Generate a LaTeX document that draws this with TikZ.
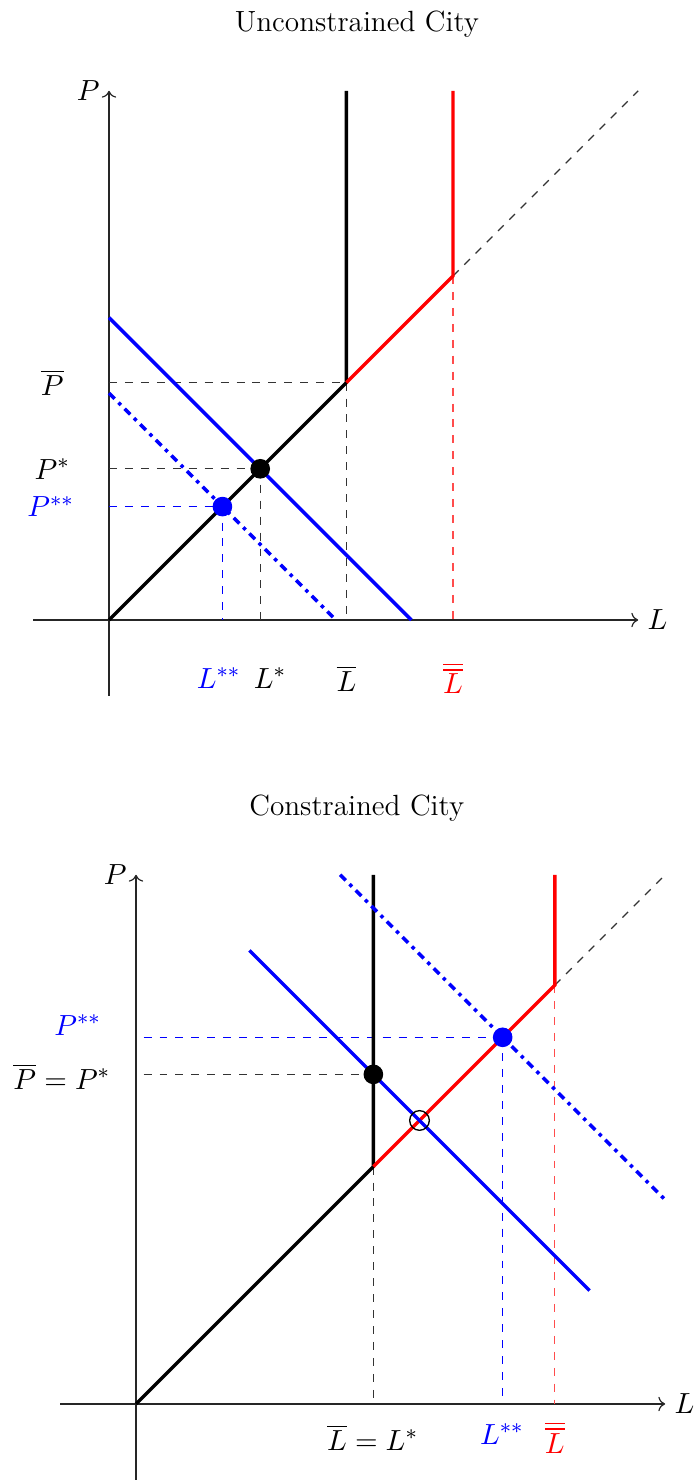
\documentclass[tikz,border=0pt]{standalone}
\usepackage{amsmath,amssymb}
\usetikzlibrary{arrows.meta,positioning,calc}

\begin{document}
\begin{tikzpicture}[
  x=1cm, y=1cm,
  font=\fontsize{11}{13.6}\selectfont,
  axis/.style={->, draw=black!85, line width=0.45pt},
  supply/.style={line width=1.3pt, draw=black},
  capline/.style={line width=1.3pt, draw=red},
  demand/.style={line width=1.3pt, draw=blue},
  shifted/.style={line width=1.3pt, draw=blue, dash dot},
  guide/.style={dashed, line width=0.45pt, draw=black!80},
  bguide/.style={dashed, line width=0.45pt, draw=blue},
  rguide/.style={dashed, line width=0.45pt, draw=red!70},
  eq/.style={circle, fill=black, inner sep=0pt, minimum size=2.6mm},
  beq/.style={circle, fill=blue, inner sep=0pt, minimum size=2.6mm},
  oeq/.style={circle, draw=black, line width=0.5pt, inner sep=0pt, minimum size=2.6mm}
]
\useasboundingbox (-1.442,-11.389) rectangle (7.765,8.201);

% ---------------- Unconstrained city ----------------
\begin{scope}
\node (t1) at (3.28,7.88) {Unconstrained City};

\coordinate (o1)  at (0,0);
\coordinate (k1)  at (3.14,3.14);
\coordinate (kk1) at (4.55,4.55);
\coordinate (e1)  at (2,2);
\coordinate (ee1) at (1.5,1.5);

% axes
\draw[axis] (0,-1) -- (0,7) node[left] (py1) {$P$};
\draw[axis] (-1,0) -- (7,0) node[right] (lx1) {$L$};

% guides
\draw[guide] (0,3.14) -- (k1);
\draw[guide] (k1) -- (3.14,0);
\draw[guide] (0,2) -- (e1);
\draw[guide] (e1) -- (2,0);
\draw[bguide] (0,1.5) -- (ee1);
\draw[bguide] (ee1) -- (1.5,0);
\draw[rguide] (kk1) -- (4.55,0);
\draw[guide] (kk1) -- (7,7);

% supply
\draw[supply] (o1) -- (k1) -- (3.14,7);
\draw[capline] (k1) -- (kk1) -- (4.55,7);

% demand
\draw[demand] (0,4) -- (4,0);
\draw[shifted] (0,3) -- (3,0);

\node[eq]  (d1)  at (e1) {};
\node[beq] (dd1) at (ee1) {};

% labels
\node (pb1)  at (-0.75,3.14) {$\overline{P}$};
\node (ps1)  at (-0.75,2)    {$P^{*}$};
\node[text=blue] (pss1) at (-0.77,1.5) {$P^{**}$};
\node[text=blue] (lss1) at (1.45,-0.77) {$L^{**}$};
\node (ls1)  at (2.13,-0.77) {$L^{*}$};
\node (lb1)  at (3.14,-0.77) {$\overline{L}$};
\node[text=red] (lbb1) at (4.55,-0.77) {$\overline{\overline{L}}$};
\end{scope}

% ---------------- Constrained city ----------------
\begin{scope}[shift={(0.357,-10.37)}]
\node (t2) at (2.92,7.88) {Constrained City};

\coordinate (o2)  at (0,0);
\coordinate (k2)  at (3.14,3.14);
\coordinate (kk2) at (5.54,5.54);
\coordinate (e2)  at (3.14,4.36);
\coordinate (ee2) at (4.85,4.85);
\coordinate (x2)  at (3.75,3.75);

% axes
\draw[axis] (0,-1) -- (0,7) node[left] (py2) {$P$};
\draw[axis] (-1,0) -- (7,0) node[right] (lx2) {$L$};

% guides
\draw[guide] (0.1,4.36) -- (e2);
\draw[guide] (k2) -- (3.14,0);
\draw[bguide] (0.1,4.85) -- (ee2);
\draw[bguide] (ee2) -- (4.85,0);
\draw[rguide] (kk2) -- (5.54,0);
\draw[guide] (kk2) -- (7,7);

% supply
\draw[supply] (o2) -- (k2) -- (3.14,7);
\draw[capline] (k2) -- (kk2) -- (5.54,7);

% demand
\draw[demand] (1.5,6) -- (6,1.5);
\draw[shifted] (2.7,7) -- (7,2.7);

\node[eq]  (d2)  at (e2) {};
\node[beq] (dd2) at (ee2) {};
\node[oeq] (c2)  at (x2) {};

% labels
\node[text=blue] (pss2) at (-0.77,5.01) {$P^{**}$};
\node (pb2)  at (-0.98,4.33) {$\overline{P} = P^{*}$};
\node (lb2)  at (3.13,-0.44) {$\overline{L} = L^{*}$};
\node[text=blue] (lss2) at (4.84,-0.40) {$L^{**}$};
\node[text=red] (lbb2) at (5.54,-0.44) {$\overline{\overline{L}}$};
\end{scope}
\end{tikzpicture}
\end{document}
